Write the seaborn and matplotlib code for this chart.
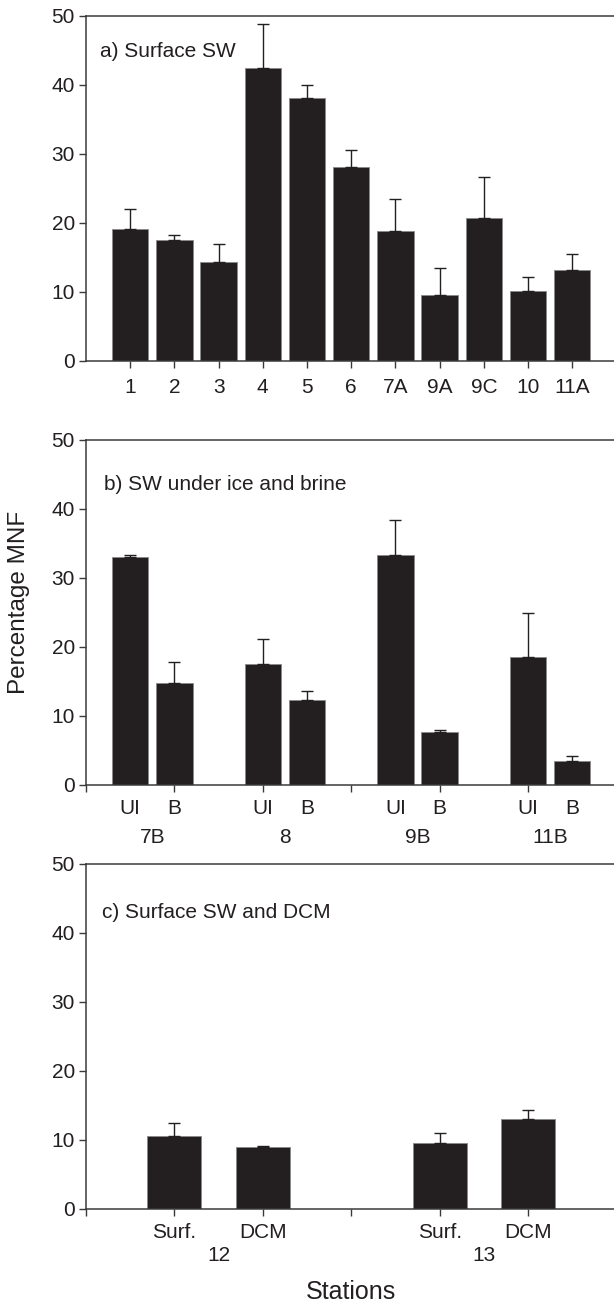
import numpy as np
import pandas as pd
import matplotlib
matplotlib.use("Agg")
import matplotlib.pyplot as plt
import seaborn as sns

# ---------------- data ----------------
# Panel a) Surface SW
a_labels = ["1", "2", "3", "4", "5", "6", "7A", "9A", "9C", "10", "11A"]
a_means = [19.1, 17.5, 14.3, 42.5, 38.1, 28.1, 18.8, 9.6, 20.7, 10.1, 13.2]
a_upper = [22.0, 18.2, 17.0, 48.9, 40.0, 30.5, 23.4, 13.4, 26.7, 12.2, 15.5]

# Panel b) SW under ice (UI) and brine (B)
b_stations = ["7B", "8", "9B", "11B"]
b_kinds = ["UI", "B"]
b_means = [33.0, 14.8, 17.6, 12.3, 33.3, 7.7, 18.6, 3.4]
b_upper = [33.3, 17.8, 21.1, 13.6, 38.4, 7.9, 24.9, 4.2]

# Panel c) Surface SW and DCM
c_stations = ["12", "13"]
c_kinds = ["Surf.", "DCM"]
c_means = [10.6, 9.0, 9.6, 13.1]
c_upper = [12.5, 9.1, 11.0, 14.4]

y_ticks = [0, 10, 20, 30, 40, 50]

# ---------------- style ----------------
sns.set_theme(style="ticks")
plt.rcParams["font.family"] = ["Liberation Sans", "DejaVu Sans"]

BAR = "#231f20"
TXT = "#231f20"
TICK_FS = 15
LAB_FS = 17.5

fig = plt.figure(figsize=(6.14, 13.05), dpi=100)
L, W, H = 0.140, 0.864, 0.2644
ax_a = fig.add_axes([L, 0.7234, W, H])
ax_b = fig.add_axes([L, 0.3985, W, H])
ax_c = fig.add_axes([L, 0.0736, W, H])


def style_axis(ax):
    ax.set_ylim(0, 50)
    ax.set_yticks(y_ticks)
    ax.set_yticklabels([str(t) for t in y_ticks])
    for s in ["left", "bottom", "top"]:
        ax.spines[s].set_visible(True)
        ax.spines[s].set_color("#3a3a3a")
        ax.spines[s].set_linewidth(1.1)
    ax.spines["right"].set_visible(False)
    ax.tick_params(axis="y", direction="out", length=5, width=1.0,
                   color="#3a3a3a", labelsize=TICK_FS, labelcolor=TXT, pad=3)
    ax.tick_params(axis="x", which="both", direction="out", width=1.0,
                   color="#3a3a3a", labelsize=TICK_FS, labelcolor=TXT)
    ax.set_xlabel("")
    ax.set_ylabel("")


def bars(ax, pos, means, upper, width):
    df = pd.DataFrame({"pos": pos, "val": means})
    sns.barplot(data=df, x="pos", y="val", native_scale=True, width=width,
                color=BAR, saturation=1, edgecolor="#8a8a8a", linewidth=0.6,
                errorbar=None, ax=ax)
    err_up = np.array(upper) - np.array(means)
    ax.errorbar(pos, means, yerr=[np.zeros_like(err_up), err_up], fmt="none",
                ecolor=BAR, elinewidth=1.0, capsize=4.5, capthick=1.0, zorder=1)


# ---- panel a ----
pos_a = np.arange(1, len(a_labels) + 1)
bars(ax_a, pos_a, a_means, a_upper, 0.82)
style_axis(ax_a)
ax_a.set_xlim(0, 12)
ax_a.set_xticks(pos_a)
ax_a.set_xticklabels(a_labels)
ax_a.tick_params(axis="x", length=5, pad=7)
ax_a.text(0.027, 0.896, "a) Surface SW", transform=ax_a.transAxes,
          fontsize=TICK_FS, color=TXT, va="center", ha="left")

# ---- panel b ----
pos_b = []
for i in range(len(b_stations)):
    base = 1 + 3 * i
    pos_b += [base, base + 1]
pos_b = np.array(pos_b)
bars(ax_b, pos_b, b_means, b_upper, 0.82)
style_axis(ax_b)
ax_b.set_xlim(0, 12)
ax_b.xaxis.remove_overlapping_locs = False
ax_b.set_xticks(pos_b)
ax_b.set_xticklabels(b_kinds * len(b_stations))
ax_b.tick_params(axis="x", which="major", length=0, pad=10)
ax_b.set_xticks(np.arange(0, 12, 2), minor=True)
ax_b.tick_params(axis="x", which="minor", length=5, width=1.0)
sec_b = ax_b.secondary_xaxis("bottom")
sec_b.set_xticks(pos_b[::2] + 0.5)
sec_b.set_xticklabels(b_stations)
sec_b.tick_params(axis="x", length=0, pad=31, labelsize=TICK_FS, labelcolor=TXT)
sec_b.spines["bottom"].set_visible(False)
ax_b.text(0.034, 0.87, "b) SW under ice and brine", transform=ax_b.transAxes,
          fontsize=TICK_FS, color=TXT, va="center", ha="left")

# ---- panel c ----
pos_c = []
for i in range(len(c_stations)):
    base = 1 + 3 * i
    pos_c += [base, base + 1]
pos_c = np.array(pos_c)
bars(ax_c, pos_c, c_means, c_upper, 0.61)
style_axis(ax_c)
ax_c.set_xlim(0, 6)
ax_c.xaxis.remove_overlapping_locs = False
ax_c.set_xticks(pos_c)
ax_c.set_xticklabels(c_kinds * len(c_stations))
ax_c.tick_params(axis="x", which="major", length=5, pad=5)
ax_c.set_xticks([0, 3], minor=True)
ax_c.tick_params(axis="x", which="minor", length=5, width=1.0)
sec_c = ax_c.secondary_xaxis("bottom")
sec_c.set_xticks(pos_c[::2] + 0.5)
sec_c.set_xticklabels(c_stations)
sec_c.tick_params(axis="x", length=0, pad=27, labelsize=TICK_FS, labelcolor=TXT)
sec_c.spines["bottom"].set_visible(False)
ax_c.text(0.030, 0.858, "c) Surface SW and DCM", transform=ax_c.transAxes,
          fontsize=TICK_FS, color=TXT, va="center", ha="left")

# ---- shared labels ----
fig.text(19 / 614, 1 - 602 / 1305, "Percentage MNF", rotation=90,
         fontsize=LAB_FS, color=TXT, ha="center", va="center")
fig.text(351 / 614, 1 - 1292 / 1305, "Stations", fontsize=18,
         color=TXT, ha="center", va="center")

fig.savefig("out.png", dpi=100)
